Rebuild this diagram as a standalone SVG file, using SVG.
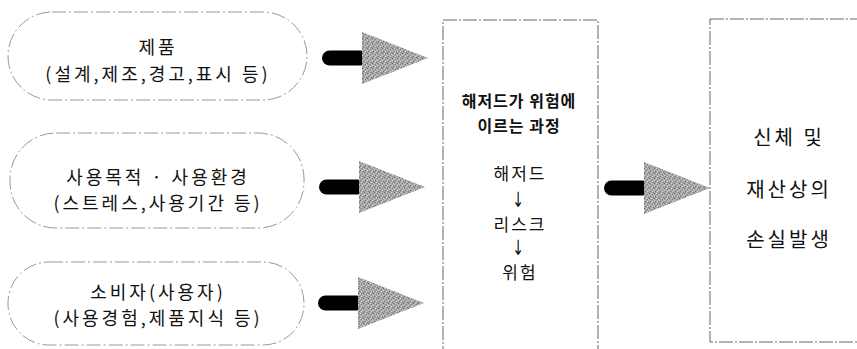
<svg xmlns="http://www.w3.org/2000/svg" width="857" height="349" viewBox="0 0 857 349">
  <defs>
    <pattern id="dither" width="5" height="5" patternUnits="userSpaceOnUse">
      <rect width="5" height="5" fill="#a6a6a6"/>
      <rect x="0" y="0" width="1" height="1" fill="#6a6a6a"/>
      <rect x="3" y="1" width="1" height="1" fill="#7a7a7a"/>
      <rect x="1" y="3" width="1" height="1" fill="#727272"/>
      <rect x="4" y="4" width="1" height="1" fill="#808080"/>
      <rect x="2" y="0" width="1" height="1" fill="#d4d4d4"/>
      <rect x="0" y="2" width="1" height="1" fill="#cfcfcf"/>
      <rect x="3" y="3" width="1" height="1" fill="#d8d8d8"/>
      <rect x="4" y="1" width="1" height="1" fill="#c8c8c8"/>
    </pattern>
    <g id="arrow">
      <rect x="0" y="-7.5" width="46" height="15" rx="7.5" fill="#000"/>
      <polygon points="40,-26 106,0 40,26" fill="url(#dither)"/>
    </g>
  </defs>
  <style>
    .pill { fill: none; stroke: #999; stroke-width: 1; stroke-dasharray: 14 3 2 3; }
    .box { fill: none; stroke: #666; stroke-width: 1; stroke-dasharray: 14 2 2 2; }
    text { font-family: "Noto Sans CJK KR", "Noto Sans", sans-serif; fill: #111; text-anchor: middle; dominant-baseline: central; }
    .t { font-size: 18px; letter-spacing: 3px; }
    .h { font-size: 16px; font-weight: bold; letter-spacing: 1px; }
    .m { font-size: 17px; letter-spacing: 2px; }
    .a { font-family: "DejaVu Sans", sans-serif; font-size: 14px; }
    .r { font-size: 20px; letter-spacing: 3px; }
  </style>
  <rect width="857" height="349" fill="#fff"/>

  <g id="node-product">
    <rect class="pill" x="8" y="12" width="299" height="88" rx="44" ry="44"/>
    <text class="t" x="158" y="46">제품</text>
    <text class="t" x="158" y="73">(설계,제조,경고,표시 등)</text>
  </g>

  <g id="node-usage">
    <rect class="pill" x="10" y="133" width="294" height="95" rx="46" ry="46"/>
    <text class="t" x="158" y="176">사용목적 · 사용환경</text>
    <text class="t" x="158" y="202">(스트레스,사용기간 등)</text>
  </g>

  <g id="node-consumer">
    <rect class="pill" x="8" y="262" width="296" height="83" rx="41" ry="41"/>
    <text class="t" x="158" y="291">소비자(사용자)</text>
    <text class="t" x="158" y="317">(사용경험,제품지식 등)</text>
  </g>

  <g id="node-process">
    <rect class="box" x="443" y="20" width="155" height="335"/>
    <text class="h" x="519" y="100">해저드가 위험에</text>
    <text class="h" x="519" y="125">이르는 과정</text>
    <text class="m" x="520" y="172">해저드</text>
    <text class="a" transform="translate(518,199) scale(1,1.5)" x="0" y="0">↓</text>
    <text class="m" x="520" y="223">리스크</text>
    <text class="a" transform="translate(518,247) scale(1,1.5)" x="0" y="0">↓</text>
    <text class="m" x="520" y="271">위험</text>
  </g>

  <g id="node-loss">
    <rect class="box" x="710" y="19" width="160" height="323"/>
    <text class="r" x="789" y="136">신체 및</text>
    <text class="r" x="789" y="188">재산상의</text>
    <text class="r" x="789" y="238">손실발생</text>
  </g>

  <g id="connectors">
    <use href="#arrow" transform="translate(322,58)"/>
    <use href="#arrow" transform="translate(319,187)"/>
    <use href="#arrow" transform="translate(318,303)"/>
    <use href="#arrow" transform="translate(604,188)"/>
  </g>
</svg>
